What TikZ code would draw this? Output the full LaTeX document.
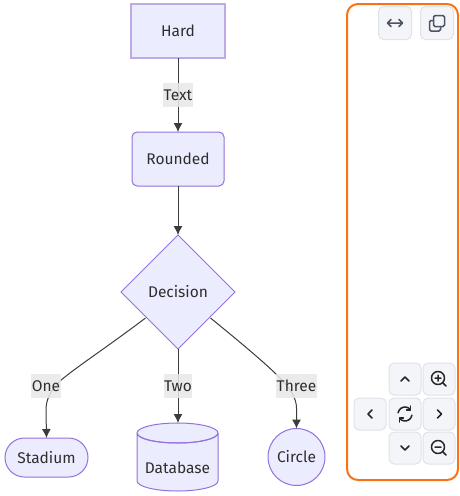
\documentclass[tikz,border=0pt]{standalone}
\usepackage{fontspec}
\setmainfont{Fira Sans}
\usetikzlibrary{shapes.geometric,arrows.meta}
\definecolor{nodefill}{HTML}{ECECFF}
\definecolor{nodeline}{HTML}{9370DB}
\definecolor{edgeline}{HTML}{3C3C3C}
\definecolor{labelfill}{HTML}{E8E8E8}
\definecolor{framec}{HTML}{F97316}
\definecolor{btnfill}{HTML}{F3F5F8}
\definecolor{btnline}{HTML}{DDE3EA}
\definecolor{icon}{HTML}{4B5563}
\tikzset{
  x=1pt,y=-1pt,
  every node/.style={font=\fontsize{15.5}{18}\selectfont,text=black!82,inner sep=0pt,outer sep=0pt},
  flow/.style={draw=nodeline,fill=nodefill,line width=1pt,minimum width=#1,align=center},
  flow/.default=92pt,
  edgeline/.style={draw=edgeline,line width=1pt,-{Latex[length=9pt,width=9pt]}},
  edgelabel/.style={fill=labelfill,fill opacity=.85,text opacity=1,inner xsep=.5pt,minimum height=24pt},
  btn/.style={draw=btnline,fill=btnfill,line width=1pt,rounded corners=5pt,minimum width=32pt,minimum height=32pt},
  glyph/.style={draw=icon,line width=1.5pt,line cap=round,line join=round},
  darkglyph/.style={draw=black!85,line width=1.5pt,line cap=round,line join=round}
}
\begin{document}
\begin{tikzpicture}
\useasboundingbox (0,0) rectangle (460,496);
% nodes
\node[flow=94pt,minimum height=54pt,draw=nodeline!60,line width=2pt] (hard) at (178,31) {Hard};
\node[flow=92pt,minimum height=54pt,rounded corners=5pt] (rounded) at (178,159) {Rounded};
\node[flow=114pt,minimum height=114pt,shape=diamond] (dec) at (178,292) {Decision};
\node[flow=83pt,minimum height=39pt,rounded corners=19.5pt] (stadium) at (46.5,457.5) {Stadium};
\node[minimum width=81pt,minimum height=68pt] (db) at (177.5,457) {};
\draw[draw=nodeline,fill=nodefill,line width=1pt]
  (db.north west) ++(0,10) coordinate (dbtl)
  arc[x radius=40.5,y radius=10,start angle=180,end angle=0]
  arc[x radius=40.5,y radius=10,start angle=0,end angle=-180]
  -- ++(0,48) arc[x radius=40.5,y radius=10,start angle=180,end angle=0]
  -- ++(0,-48);
\draw[draw=nodeline,line width=1pt] (dbtl) arc[x radius=40.5,y radius=10,start angle=180,end angle=0];
\node at (177.5,468) {Database};
\node[flow=57pt,shape=circle] (circ) at (296.5,457) {Circle};
% connectors
\coordinate (dbtop) at (178,423);
\draw[edgeline] (hard) -- node[edgelabel,pos=.5] (ltext) {Text} (rounded);
\draw[edgeline] (rounded) -- (dec);
\draw[edgeline] (dec.south) -- node[edgelabel,pos=.5] (ltwo) {Two} (dbtop);
\draw[edgeline] (dec.south west) ++(-4,-2.5) .. controls (110,345) and (75,368) .. (60,381)
  .. controls (50,391) and (46,400) .. (46,410) -- (stadium.north);
\draw[edgeline] (dec.south east) ++(4,-2.5) .. controls (240,342) and (265,363) .. (278,376)
  .. controls (290,388) and (296.5,398) .. (296.5,408) -- (circ.north);
\node[edgelabel] (lone) at (46,386) {One};
\node[edgelabel] (lthree) at (296.5,386) {Three};
% panel
\node[draw=framec,line width=2pt,rounded corners=11pt,minimum width=111pt,minimum height=476pt] (panel) at (402.5,242) {};
\node[btn,minimum width=33pt,minimum height=33pt] (bfit) at (395,23) {};
\node[btn,minimum width=33pt,minimum height=33pt] (bcopy) at (437,23) {};
\node[btn] (bup) at (405,379) {};
\node[btn] (bzin) at (439,379) {};
\node[btn] (bleft) at (370,414) {};
\node[btn] (breset) at (405,414) {};
\node[btn] (bright) at (439,414) {};
\node[btn] (bdown) at (405,448) {};
\node[btn] (bzout) at (439,448) {};
% icons
\draw[glyph] (388,23) -- (402,23) (391,19.5) -- (387.5,23) -- (391,26.5) (399,19.5) -- (402.5,23) -- (399,26.5);
\draw[glyph,rounded corners=1.5pt] (433,20.5) -- (429.5,20.5) -- (429.5,31) -- (440.5,31) -- (440.5,26.5);
\draw[glyph,rounded corners=1.5pt] (433.5,15.5) rectangle (444.5,26.5);
\draw[darkglyph] (401,381) -- (405,377) -- (409,381);
\draw[darkglyph] (401,446) -- (405,450) -- (409,446);
\draw[darkglyph] (372,410) -- (368,414) -- (372,418);
\draw[darkglyph] (437.5,410) -- (441.5,414) -- (437.5,418);
\draw[darkglyph] (398.1,412.8) arc[radius=7,start angle=190,end angle=320];
\draw[darkglyph] (411.9,415.2) arc[radius=7,start angle=10,end angle=140];
\draw[darkglyph] (410.6,406) -- (410.6,410) -- (406.6,410);
\draw[darkglyph] (399.4,422) -- (399.4,418) -- (403.4,418);
\draw[darkglyph] (438,378) circle[radius=6.5] (443,383) -- (446,386) (435,378) -- (441,378) (438,375) -- (438,381);
\draw[darkglyph] (438,447) circle[radius=6.5] (443,452) -- (446,455) (435,447) -- (441,447);
\end{tikzpicture}
\end{document}
